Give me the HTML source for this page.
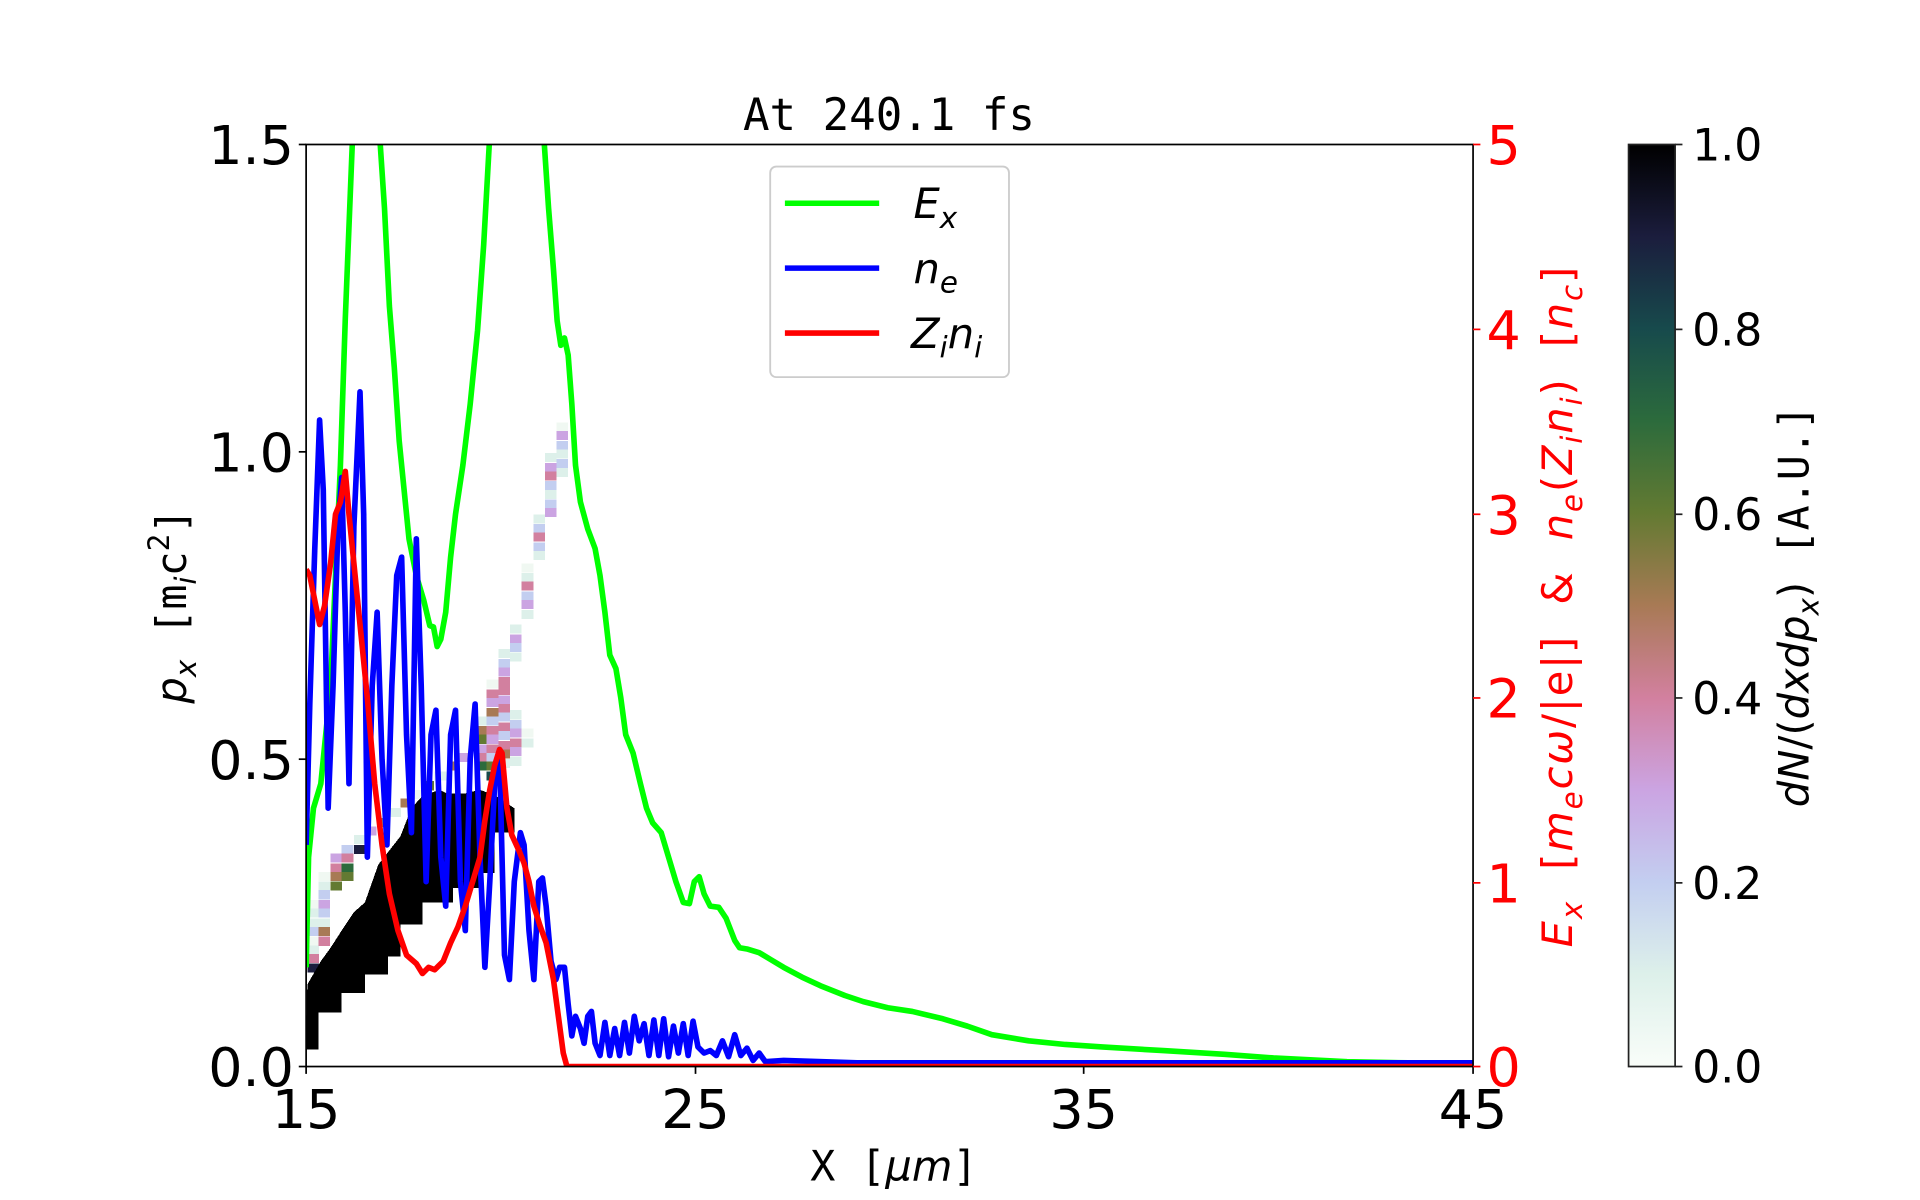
<!DOCTYPE html>
<html><head><meta charset="utf-8"><style>
html,body{margin:0;padding:0;background:#fff;}
svg{display:block;}
text{font-family:"DejaVu Sans","Liberation Sans",sans-serif;}
.mono{font-family:"DejaVu Sans Mono","Liberation Mono",monospace;}
</style></head><body>
<svg width="1920" height="1200" viewBox="0 0 1568 980" xmlns="http://www.w3.org/2000/svg">
<defs>
<linearGradient id="cb" x1="0" y1="1" x2="0" y2="0">
<stop offset="0" stop-color="#f9fdf9"/>
<stop offset="0.1" stop-color="#ddf0ea"/>
<stop offset="0.2" stop-color="#c3cef0"/>
<stop offset="0.3" stop-color="#cba4e2"/>
<stop offset="0.4" stop-color="#d2809f"/>
<stop offset="0.5" stop-color="#a87a55"/>
<stop offset="0.6" stop-color="#637a32"/>
<stop offset="0.7" stop-color="#2c6b3c"/>
<stop offset="0.8" stop-color="#174a4c"/>
<stop offset="0.9" stop-color="#1b1d3d"/>
<stop offset="1" stop-color="#000000"/>
</linearGradient>
<clipPath id="pc"><rect x="250" y="118" width="953" height="753"/></clipPath>
</defs>

<!-- heatmap -->
<g clip-path="url(#pc)" shape-rendering="crispEdges">
<g>
<rect x="251" y="735" width="9.5" height="7.4" fill="#f0f8f2"/>
<rect x="251" y="742" width="9.5" height="7.4" fill="#ddf0ea"/>
<rect x="251" y="750" width="9.5" height="7.4" fill="#ddf0ea"/>
<rect x="251" y="757" width="9.5" height="7.4" fill="#c3cef0"/>
<rect x="251" y="765" width="9.5" height="7.4" fill="#f0f8f2"/>
<rect x="251" y="772" width="9.5" height="7.4" fill="#ddf0ea"/>
<rect x="251" y="779" width="9.5" height="7.4" fill="#d2809f"/>
<rect x="251" y="787" width="9.5" height="7.4" fill="#1b1d3d"/>
<rect x="260" y="712" width="9.5" height="7.4" fill="#f0f8f2"/>
<rect x="260" y="720" width="9.5" height="7.4" fill="#ddf0ea"/>
<rect x="260" y="727" width="9.5" height="7.4" fill="#c3cef0"/>
<rect x="260" y="735" width="9.5" height="7.4" fill="#cba4e2"/>
<rect x="260" y="742" width="9.5" height="7.4" fill="#c3cef0"/>
<rect x="260" y="750" width="9.5" height="7.4" fill="#ddf0ea"/>
<rect x="260" y="757" width="9.5" height="7.4" fill="#a87a55"/>
<rect x="260" y="765" width="9.5" height="7.4" fill="#d2809f"/>
<rect x="270" y="697" width="9.5" height="7.4" fill="#cba4e2"/>
<rect x="270" y="705" width="9.5" height="7.4" fill="#d2809f"/>
<rect x="270" y="712" width="9.5" height="7.4" fill="#a87a55"/>
<rect x="270" y="720" width="9.5" height="7.4" fill="#637a32"/>
<rect x="279" y="690" width="9.5" height="7.4" fill="#c3cef0"/>
<rect x="279" y="697" width="9.5" height="7.4" fill="#d2809f"/>
<rect x="279" y="705" width="9.5" height="7.4" fill="#2c6b3c"/>
<rect x="279" y="712" width="9.5" height="7.4" fill="#637a32"/>
<rect x="289" y="682" width="9.5" height="7.4" fill="#ddf0ea"/>
<rect x="289" y="690" width="9.5" height="7.4" fill="#1b1d3d"/>
<rect x="298" y="675" width="9.5" height="7.4" fill="#cba4e2"/>
<rect x="308" y="668" width="9.5" height="7.4" fill="#a87a55"/>
<rect x="318" y="660" width="9.5" height="7.4" fill="#ddf0ea"/>
<rect x="327" y="652" width="9.5" height="7.4" fill="#a87a55"/>
<rect x="337" y="645" width="9.5" height="7.4" fill="#f0f8f2"/>
<rect x="345" y="638" width="9.5" height="7.4" fill="#637a32"/>
<rect x="355" y="630" width="9.5" height="7.4" fill="#ddf0ea"/>
<rect x="365" y="622" width="9.5" height="7.4" fill="#a87a55"/>
<rect x="374" y="615" width="9.5" height="7.4" fill="#cba4e2"/>
<rect x="388" y="585" width="9.5" height="7.4" fill="#ddf0ea"/>
<rect x="388" y="593" width="9.5" height="7.4" fill="#a87a55"/>
<rect x="388" y="600" width="9.5" height="7.4" fill="#637a32"/>
<rect x="388" y="608" width="9.5" height="7.4" fill="#cba4e2"/>
<rect x="388" y="615" width="9.5" height="7.4" fill="#d2809f"/>
<rect x="388" y="622" width="9.5" height="7.4" fill="#2c6b3c"/>
<rect x="397.5" y="555" width="9.5" height="7.4" fill="#f0f8f2"/>
<rect x="397.5" y="563" width="9.5" height="7.4" fill="#d2809f"/>
<rect x="397.5" y="570" width="9.5" height="7.4" fill="#cba4e2"/>
<rect x="397.5" y="578" width="9.5" height="7.4" fill="#a87a55"/>
<rect x="397.5" y="585" width="9.5" height="7.4" fill="#c3cef0"/>
<rect x="397.5" y="593" width="9.5" height="7.4" fill="#d2809f"/>
<rect x="397.5" y="600" width="9.5" height="7.4" fill="#cba4e2"/>
<rect x="397.5" y="608" width="9.5" height="7.4" fill="#d2809f"/>
<rect x="397.5" y="615" width="9.5" height="7.4" fill="#c3cef0"/>
<rect x="397.5" y="622" width="9.5" height="7.4" fill="#637a32"/>
<rect x="397.5" y="630" width="9.5" height="7.4" fill="#174a4c"/>
<rect x="407" y="530" width="9.5" height="7.4" fill="#ddf0ea"/>
<rect x="407" y="538" width="9.5" height="7.4" fill="#c3cef0"/>
<rect x="407" y="545" width="9.5" height="7.4" fill="#cba4e2"/>
<rect x="407" y="553" width="9.5" height="7.4" fill="#d2809f"/>
<rect x="407" y="560" width="9.5" height="7.4" fill="#d2809f"/>
<rect x="407" y="568" width="9.5" height="7.4" fill="#cba4e2"/>
<rect x="407" y="575" width="9.5" height="7.4" fill="#d2809f"/>
<rect x="407" y="582" width="9.5" height="7.4" fill="#c3cef0"/>
<rect x="407" y="590" width="9.5" height="7.4" fill="#d2809f"/>
<rect x="407" y="597" width="9.5" height="7.4" fill="#c3cef0"/>
<rect x="407" y="605" width="9.5" height="7.4" fill="#d2809f"/>
<rect x="407" y="612" width="9.5" height="7.4" fill="#a87a55"/>
<rect x="407" y="620" width="9.5" height="7.4" fill="#ddf0ea"/>
<rect x="416.5" y="510" width="9.5" height="7.4" fill="#ddf0ea"/>
<rect x="416.5" y="518" width="9.5" height="7.4" fill="#cba4e2"/>
<rect x="416.5" y="525" width="9.5" height="7.4" fill="#c3cef0"/>
<rect x="416.5" y="533" width="9.5" height="7.4" fill="#ddf0ea"/>
<rect x="416.5" y="580" width="9.5" height="7.4" fill="#ddf0ea"/>
<rect x="416.5" y="588" width="9.5" height="7.4" fill="#c3cef0"/>
<rect x="416.5" y="595" width="9.5" height="7.4" fill="#cba4e2"/>
<rect x="416.5" y="603" width="9.5" height="7.4" fill="#d2809f"/>
<rect x="416.5" y="610" width="9.5" height="7.4" fill="#cba4e2"/>
<rect x="416.5" y="618" width="9.5" height="7.4" fill="#ddf0ea"/>
<rect x="426" y="460" width="9.5" height="7.4" fill="#f0f8f2"/>
<rect x="426" y="468" width="9.5" height="7.4" fill="#ddf0ea"/>
<rect x="426" y="475" width="9.5" height="7.4" fill="#d2809f"/>
<rect x="426" y="483" width="9.5" height="7.4" fill="#c3cef0"/>
<rect x="426" y="490" width="9.5" height="7.4" fill="#cba4e2"/>
<rect x="426" y="498" width="9.5" height="7.4" fill="#ddf0ea"/>
<rect x="426" y="595" width="9.5" height="7.4" fill="#f0f8f2"/>
<rect x="426" y="603" width="9.5" height="7.4" fill="#ddf0ea"/>
<rect x="435.5" y="420" width="9.5" height="7.4" fill="#ddf0ea"/>
<rect x="435.5" y="428" width="9.5" height="7.4" fill="#c3cef0"/>
<rect x="435.5" y="435" width="9.5" height="7.4" fill="#d2809f"/>
<rect x="435.5" y="443" width="9.5" height="7.4" fill="#c3cef0"/>
<rect x="435.5" y="450" width="9.5" height="7.4" fill="#ddf0ea"/>
<rect x="445" y="370" width="9.5" height="7.4" fill="#ddf0ea"/>
<rect x="445" y="378" width="9.5" height="7.4" fill="#cba4e2"/>
<rect x="445" y="385" width="9.5" height="7.4" fill="#d2809f"/>
<rect x="445" y="393" width="9.5" height="7.4" fill="#c3cef0"/>
<rect x="445" y="400" width="9.5" height="7.4" fill="#ddf0ea"/>
<rect x="445" y="408" width="9.5" height="7.4" fill="#c3cef0"/>
<rect x="445" y="415" width="9.5" height="7.4" fill="#cba4e2"/>
<rect x="454.5" y="345" width="9.5" height="7.4" fill="#f0f8f2"/>
<rect x="454.5" y="352" width="9.5" height="7.4" fill="#cba4e2"/>
<rect x="454.5" y="360" width="9.5" height="7.4" fill="#c3cef0"/>
<rect x="454.5" y="367" width="9.5" height="7.4" fill="#ddf0ea"/>
<rect x="454.5" y="375" width="9.5" height="7.4" fill="#c3cef0"/>
<rect x="454.5" y="382" width="9.5" height="7.4" fill="#ddf0ea"/>
</g>
<polygon fill="#000" points="250,857 260,857 260,827 279,827 279,811 298,811 298,796 317,796 317,781 327,781 327,755 345,755 345,737 370,737 370,725 392,725 392,713 404,713 404,680 420,680 420,660 405,650 392,645 380,648 365,648 359,645 345,650 336,660 327,683 309,706 298,737 289,745 279,760 270,774 262,785 251,804"/>
</g>

<g clip-path="url(#pc)" fill="none" stroke-width="4.6" stroke-linejoin="round">
<polyline stroke="#00ff00" points="250,790 252,700 256,660 262,640 266,600 270,560 274,470 278,380 282,260 286,160 288,110 310,110 314,170 318,250 322,300 326,360 330,400 334,440 340,470 346,490 351,511 354,512 357,528 360,522 364,500 368,455 372,420 378,380 384,330 390,270 395,200 400,110 444,110 448,170 452,220 455,262 458,282 461,276 464,290 467,330 470,380 474,410 480,432 486,448 490,470 494,500 498,535 503,546 507,570 511,600 517,615 523,640 528,660 533,672 540,680 546,700 552,720 558,737 563,738 567,720 571,716 575,730 580,740 587,741 593,750 600,768 604,774 610,775 620,778 630,784 640,790 655,798 670,805 690,813 705,818 725,823 745,826 770,832 790,838 810,845 840,850 870,853 900,855 950,858 1000,861 1040,864 1100,867 1150,868 1203,870"/>
<polyline stroke="#0000ff" points="250,690 253,575 257,450 261,343 264,400 268,660 272,560 276,430 279,390 282,500 285,640 289,430 294,320 297,420 300,700 304,560 308,500 312,620 316,690 320,560 324,470 328,455 332,600 336,680 340,440 344,560 348,720 352,600 356,580 360,700 364,740 368,600 372,580 376,720 380,760 384,620 388,575 392,700 396,790 400,720 404,640 408,620 412,780 416,800 420,720 425,680 428,690 432,760 436,800 440,720 443,717 446,740 450,785 454,800 457,790 461,790 464,820 467,846 470,830 474,840 477,852 480,830 483,826 486,852 490,862 494,835 498,862 502,840 506,862 510,835 514,860 518,830 522,850 526,836 530,862 534,833 538,862 542,832 546,863 550,838 554,860 558,836 562,862 566,834 570,855 575,860 580,858 585,862 590,850 595,863 600,845 605,862 610,856 615,866 620,860 625,867 640,866 700,868 1203,868"/>
<polyline stroke="#ff0000" points="250,465 253,470 257,490 261,510 265,495 270,460 274,420 278,410 282,385 285,420 290,470 295,520 300,570 306,640 312,690 318,730 325,760 332,780 340,787 345,795 350,790 355,792 362,785 368,770 374,757 380,740 386,720 392,700 396,670 400,645 404,625 408,612 410,615 414,660 418,682 424,695 428,705 432,720 436,740 441,756 446,770 452,800 456,830 460,860 463,871 1203,871"/>
</g>

<!-- axes frame -->
<rect x="250" y="118" width="953" height="753" fill="none" stroke="#000" stroke-width="1.4"/>
<g stroke="#000" stroke-width="1.4">
<line x1="250" y1="871" x2="250" y2="877"/><line x1="568" y1="871" x2="568" y2="877"/><line x1="885" y1="871" x2="885" y2="877"/><line x1="1203" y1="871" x2="1203" y2="877"/>
<line x1="244" y1="118" x2="250" y2="118"/><line x1="244" y1="369" x2="250" y2="369"/><line x1="244" y1="620" x2="250" y2="620"/><line x1="244" y1="871" x2="250" y2="871"/>
</g>
<g stroke="#ff0000" stroke-width="1.4">
<line x1="1203" y1="118" x2="1209" y2="118"/><line x1="1203" y1="269" x2="1209" y2="269"/><line x1="1203" y1="420" x2="1209" y2="420"/><line x1="1203" y1="570" x2="1209" y2="570"/><line x1="1203" y1="721" x2="1209" y2="721"/><line x1="1203" y1="871" x2="1209" y2="871"/>
</g>

<!-- tick labels -->
<g font-size="44" text-anchor="end" fill="#000">
<text x="240" y="134">1.5</text><text x="240" y="385">1.0</text><text x="240" y="636">0.5</text><text x="240" y="887">0.0</text>
</g>
<g font-size="44" text-anchor="middle" fill="#000">
<text x="250" y="921">15</text><text x="568" y="921">25</text><text x="885" y="921">35</text><text x="1203" y="921">45</text>
</g>
<g font-size="44" fill="#ff0000">
<text x="1214" y="134">5</text><text x="1214" y="285">4</text><text x="1214" y="436">3</text><text x="1214" y="586">2</text><text x="1214" y="737">1</text><text x="1214" y="887">0</text>
</g>

<text class="mono" x="726" y="106" font-size="36" text-anchor="middle">At 240.1 fs</text>

<!-- x label -->
<text x="730" y="964" font-size="34" text-anchor="middle"><tspan class="mono">X [</tspan><tspan font-style="italic">μm</tspan><tspan class="mono">]</tspan></text>

<!-- left y label -->
<text transform="translate(152,495) rotate(-90)" font-size="34" text-anchor="middle"><tspan font-style="italic">p</tspan><tspan font-style="italic" font-size="24" dy="8">x</tspan><tspan class="mono" dy="-8"> [m</tspan><tspan font-style="italic" font-size="24" dy="8">i</tspan><tspan class="mono" dy="-8">c</tspan><tspan class="mono" font-size="24" dy="-14">2</tspan><tspan class="mono" dy="14">]</tspan></text>

<!-- right y label -->
<text xml:space="preserve" transform="translate(1284,495) rotate(-90)" font-size="34" text-anchor="middle" fill="#ff0000" letter-spacing="1.5"><tspan font-style="italic">E</tspan><tspan font-style="italic" font-size="24" dy="8">x</tspan><tspan dy="-8">  [</tspan><tspan font-style="italic">m</tspan><tspan font-style="italic" font-size="24" dy="8">e</tspan><tspan font-style="italic" dy="-8">cω</tspan><tspan>/|e|]  &amp;  </tspan><tspan font-style="italic">n</tspan><tspan font-style="italic" font-size="24" dy="8">e</tspan><tspan dy="-8">(</tspan><tspan font-style="italic">Z</tspan><tspan font-style="italic" font-size="24" dy="8">i</tspan><tspan font-style="italic" dy="-8">n</tspan><tspan font-style="italic" font-size="24" dy="8">i</tspan><tspan dy="-8">)  [</tspan><tspan font-style="italic">n</tspan><tspan font-style="italic" font-size="24" dy="8">c</tspan><tspan dy="-8">]</tspan></text>

<!-- legend -->
<rect x="629" y="136" width="195" height="172" rx="5" fill="#fff" fill-opacity="0.85" stroke="#cccccc" stroke-width="1.5"/>
<g stroke-width="4.5">
<line x1="641" y1="166" x2="718" y2="166" stroke="#00ff00"/>
<line x1="641" y1="219" x2="718" y2="219" stroke="#0000ff"/>
<line x1="641" y1="272" x2="718" y2="272" stroke="#ff0000"/>
</g>
<g font-size="34" font-style="italic">
<text x="746" y="178">E<tspan font-size="24" dy="8">x</tspan></text>
<text x="746" y="231">n<tspan font-size="24" dy="8">e</tspan></text>
<text x="744" y="284">Z<tspan font-size="24" dy="8">i</tspan><tspan dy="-8">n</tspan><tspan font-size="24" dy="8">i</tspan></text>
</g>

<!-- colorbar -->
<rect x="1330" y="118" width="38" height="753" fill="url(#cb)" stroke="#222" stroke-width="1.4"/>
<g stroke="#222" stroke-width="1.4">
<line x1="1368" y1="118" x2="1374" y2="118"/><line x1="1368" y1="269" x2="1374" y2="269"/><line x1="1368" y1="420" x2="1374" y2="420"/><line x1="1368" y1="570" x2="1374" y2="570"/><line x1="1368" y1="721" x2="1374" y2="721"/><line x1="1368" y1="871" x2="1374" y2="871"/>
</g>
<g font-size="36" fill="#000">
<text x="1382" y="131">1.0</text><text x="1382" y="282">0.8</text><text x="1382" y="433">0.6</text><text x="1382" y="583">0.4</text><text x="1382" y="734">0.2</text><text x="1382" y="884">0.0</text>
</g>
<text xml:space="preserve" transform="translate(1477,495) rotate(-90)" font-size="34" text-anchor="middle"><tspan font-style="italic">dN</tspan><tspan>/(</tspan><tspan font-style="italic">dxdp</tspan><tspan font-style="italic" font-size="24" dy="8">x</tspan><tspan dy="-8">)  </tspan><tspan class="mono">[A.U.]</tspan></text>
</svg>
</body></html>
